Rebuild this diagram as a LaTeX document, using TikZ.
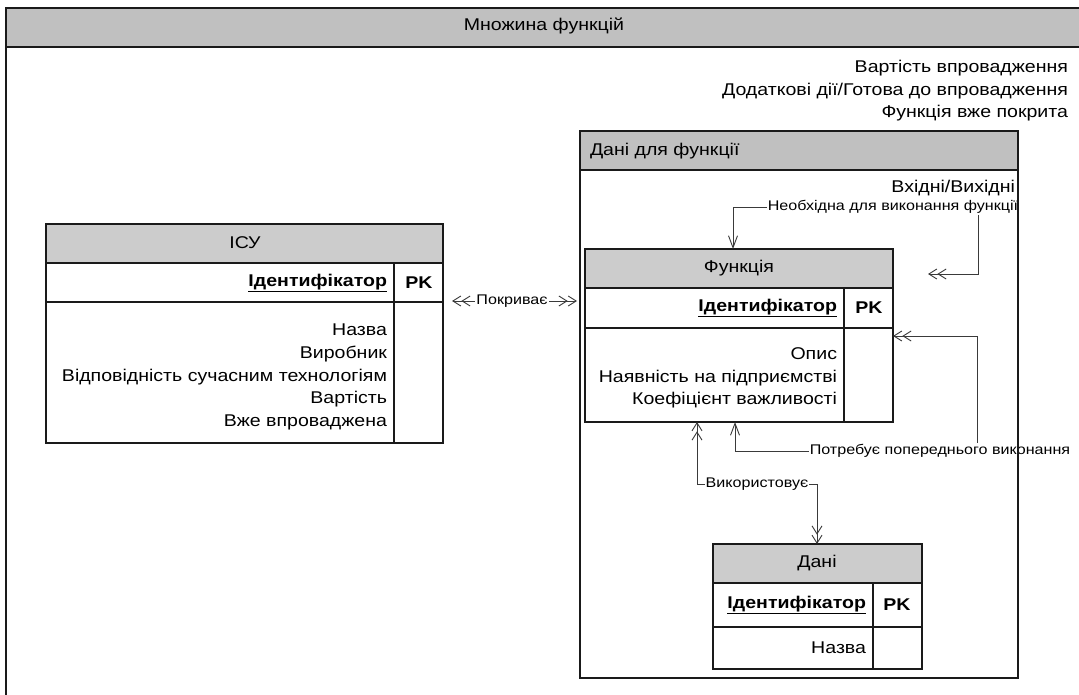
\documentclass[tikz,border=0pt]{standalone}
\usepackage{fontspec}
\setmainfont{Liberation Sans}[FakeStretch=1.15]
\usetikzlibrary{arrows.meta}
\definecolor{hdr}{HTML}{C0C0C0}
\definecolor{thdr}{HTML}{CCCCCC}
\definecolor{ln}{HTML}{1A1A1A}
\definecolor{cn}{HTML}{3A3A3A}
\begin{document}
\begin{tikzpicture}[x=1pt,y=-1pt,
  tx/.style={font=\fontsize{17}{22.8}\selectfont, inner sep=0pt, outer sep=0pt},
  key/.style={tx, anchor=east, font=\fontsize{17}{22.8}\selectfont\bfseries},
  pk/.style={tx, font=\fontsize{17}{22.8}\selectfont\bfseries},
  attr/.style={tx, anchor=east, align=right},
  lbl/.style={font=\fontsize{14}{16}\selectfont, fill=white, inner sep=1pt},
  box/.style={anchor=north west, draw=ln, line width=1.3pt, fill=white, inner sep=0pt, outer sep=0pt},
  tline/.style={draw=ln, line width=1.3pt},
  conn/.style={draw=cn, line width=0.9pt},
  dd-dd/.style={arrows={Straight Barb[length=8pt,width=10pt]Straight Barb[length=8pt,width=10pt]-Straight Barb[length=8pt,width=10pt]Straight Barb[length=8pt,width=10pt]}},
  dd-s/.style={arrows={Straight Barb[length=8pt,width=10pt]Straight Barb[length=8pt,width=10pt]-Straight Barb[length=12pt,width=9pt]}}]

\useasboundingbox (0,0) rectangle (1079,695);
\clip (0,0) rectangle (1079,695);

% outer frame
\node[box, line width=2pt, minimum width=1100pt, minimum height=720pt] (set) at (6,8) {};
\filldraw[fill=hdr, draw=ln, line width=2pt] (set.north west) rectangle (set.east |- 0,47);
\node[tx] (sett) at (544,26) {Множина функцій};
\node[tx, anchor=east] (a1) at (1068,68) {Вартість впровадження};
\node[tx, anchor=east] (a2) at (1068,91) {Додаткові дії/Готова до впровадження};
\node[tx, anchor=east] (a3) at (1068,113) {Функція вже покрита};

% inner frame
\node[box, line width=1.6pt, minimum width=438pt, minimum height=547pt] (dff) at (580,131) {};
\filldraw[fill=hdr, draw=ln, line width=1.6pt] (dff.north west) rectangle (dff.east |- 0,170);
\node[tx, anchor=west] (dfft) at (590,151) {Дані для функції};
\node[tx, anchor=east] (io) at (1015,188) {Вхідні/Вихідні};

% table ICU
\node[box, minimum width=397pt, minimum height=219pt] (icu) at (46,224) {};
\filldraw[fill=thdr, draw=ln, line width=1.3pt] (icu.north west) rectangle (icu.east |- 0,263);
\draw[tline] (icu.west |- 0,302) -- (icu.east |- 0,302);
\draw[tline] (394,263) -- (394,0 |- icu.south);
\node[tx] (icuh) at (245,243) {ІСУ};
\node[key] (icuk) at (387,283) {\underline{Ідентифікатор}};
\node[pk] (icup) at (419,283) {PK};
\node[attr] (icua) at (387,377) {Назва\\Виробник\\Відповідність сучасним технологіям\\Вартість\\Вже впроваджена};

% table Function
\node[box, minimum width=308pt, minimum height=173pt] (func) at (585,249) {};
\filldraw[fill=thdr, draw=ln, line width=1.3pt] (func.north west) rectangle (func.east |- 0,288);
\draw[tline] (func.west |- 0,328) -- (func.east |- 0,328);
\draw[tline] (844,288) -- (844,0 |- func.south);
\node[tx] (funch) at (739,268) {Функція};
\node[key] (funck) at (837,308) {\underline{Ідентифікатор}};
\node[pk] (funcp) at (869,308) {PK};
\node[attr] (funca) at (837,378) {Опис\\Наявність на підприємстві\\Коефіцієнт важливості};

% table Data
\node[box, minimum width=209pt, minimum height=125pt] (dani) at (713,544) {};
\filldraw[fill=thdr, draw=ln, line width=1.3pt] (dani.north west) rectangle (dani.east |- 0,583);
\draw[tline] (dani.west |- 0,627) -- (dani.east |- 0,627);
\draw[tline] (873,583) -- (873,0 |- dani.south);
\node[tx] (danih) at (817,563) {Дані};
\node[key] (danik) at (866,605) {\underline{Ідентифікатор}};
\node[pk] (danip) at (897,605) {PK};
\node[attr] (dania) at (866,648) {Назва};

% connectors
\coordinate (nf) at (928,274);
\draw[conn, dd-s] (nf) -- (978,274) -- (978,207) -- (733,207) -- (733,0 |- func.north);
\node[lbl] (nl) at (893,207) {Необхідна для виконання функції};

\draw[conn, dd-s] (func.east |- 0,336) -- (977,336) -- (977,451) -- (735,451) -- (735,0 |- func.south);
\node[lbl] (pl) at (940,451) {Потребує попереднього виконання};

\draw[conn, dd-dd] (697,0 |- func.south) -- (697,484) -- (817,484) -- (817,0 |- dani.north);
\node[lbl] (vl) at (757,484) {Використовує};

\draw[conn, dd-dd, shorten <=9pt, shorten >=8pt] (icu.east |- 0,301) -- (func.west |- 0,301);
\node[lbl] (cl) at (512,301) {Покриває};

% redraw inner frame border on top
\draw[draw=ln, line width=1.6pt] (dff.north west) rectangle (dff.south east);
\end{tikzpicture}
\end{document}
